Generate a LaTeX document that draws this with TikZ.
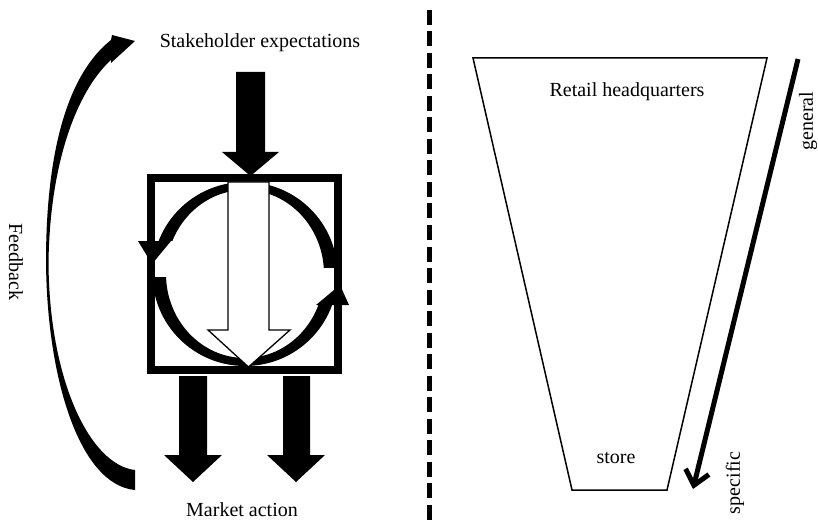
\documentclass[tikz,border=0pt]{standalone}
\usepackage{fontspec}
\setmainfont{Liberation Serif}
\usetikzlibrary{arrows.meta}
\begin{document}
\begin{tikzpicture}[x=1pt,y=-1pt,
  lbl/.style={font=\fontsize{20}{24}\selectfont, inner sep=0pt},
  blockarrow/.style={fill=black},
  hollowarrow/.style={draw=black, fill=white, line width=1.3pt, line join=miter},
  thinline/.style={line width=1.5pt, line join=miter},
  divider/.style={line width=5pt, dash pattern=on 15pt off 6.5pt}]
\useasboundingbox (0,0) rectangle (818,521);

% ---------- texts ----------
\node[lbl, anchor=base] (stake) at (260,48) {Stakeholder expectations};
\node[lbl, anchor=base] (market) at (242,516) {Market action};
\node[lbl, rotate=-90] (feedback) at (16,262) {Feedback};
\node[lbl, anchor=base] (hq) at (627,97) {Retail headquarters};
\node[lbl, anchor=base] (store) at (616,463) {store};
\node[lbl, rotate=90] (general) at (808,121) {general};
\node[lbl, rotate=90] (specific) at (735,483) {specific};

% ---------- feedback arrow ----------
\fill (135,490) .. controls (80,485) and (47,380) .. (46,262)
      .. controls (46,150) and (68,74) .. (111,40)
      -- (112,35) -- (135,41) -- (111,63) -- (111,60)
      .. controls (78,90) and (50,160) .. (48.5,262)
      .. controls (49,380) and (90,465) .. (135,470) -- cycle;

% ---------- circulating ring ----------
\coordinate (c) at (245,274);
\fill[even odd rule] (c) ellipse [x radius=92.5pt, y radius=92pt]
                     (c) ellipse [x radius=79pt, y radius=84pt];
\fill[white] (140,241) rectangle (175,277);
\fill[white] (310,268) rectangle (345,305);

% ---------- square ----------
\node[draw, line width=8pt, minimum width=187pt, minimum height=192pt,
      inner sep=0pt, outer sep=0pt] (box) at (244.5,274) {};

% ring arrowheads
\fill (138,241) -- (171,241) -- (152,264) -- cycle;
\fill (316,305) -- (349,305) -- (340,285) -- cycle;

% ---------- hollow arrow ----------
\draw[hollowarrow] (228,182) -- (269,182) -- (269,330) -- (290,330)
   -- (248.5,367) -- (208,330) -- (228,330) -- cycle;

% ---------- input arrow ----------
\fill[blockarrow] (236,72) -- (265,72) -- (265,152) -- (279,152)
   -- (250.5,176) -- (222,152) -- (236,152) -- cycle;

% ---------- output arrows ----------
\fill[blockarrow] (179,376) -- (207,376) -- (207,455) -- (222,455)
   -- (193,482) -- (164,455) -- (179,455) -- cycle;
\fill[blockarrow] (283,376) -- (310,376) -- (310,455) -- (325,455)
   -- (296,482) -- (267,455) -- (283,455) -- cycle;

% ---------- divider ----------
\coordinate (dtop) at (429.5,10);
\coordinate (dbot) at (429.5,521);
\draw[divider] (dtop) -- (dbot);

% ---------- trapezoid ----------
\coordinate (tl) at (473,58);
\coordinate (tr) at (767,58);
\coordinate (br) at (667,490);
\coordinate (bl) at (572,490);
\draw[thinline] (tl) -- (tr) -- (br) -- (bl) -- cycle;

% ---------- general -> specific ----------
\coordinate (g) at (798,59);
\coordinate (s) at (693,489);
\draw[line width=5pt, -{Straight Barb[length=14pt,width=24pt]}] (g) -- (s);
\end{tikzpicture}
\end{document}
